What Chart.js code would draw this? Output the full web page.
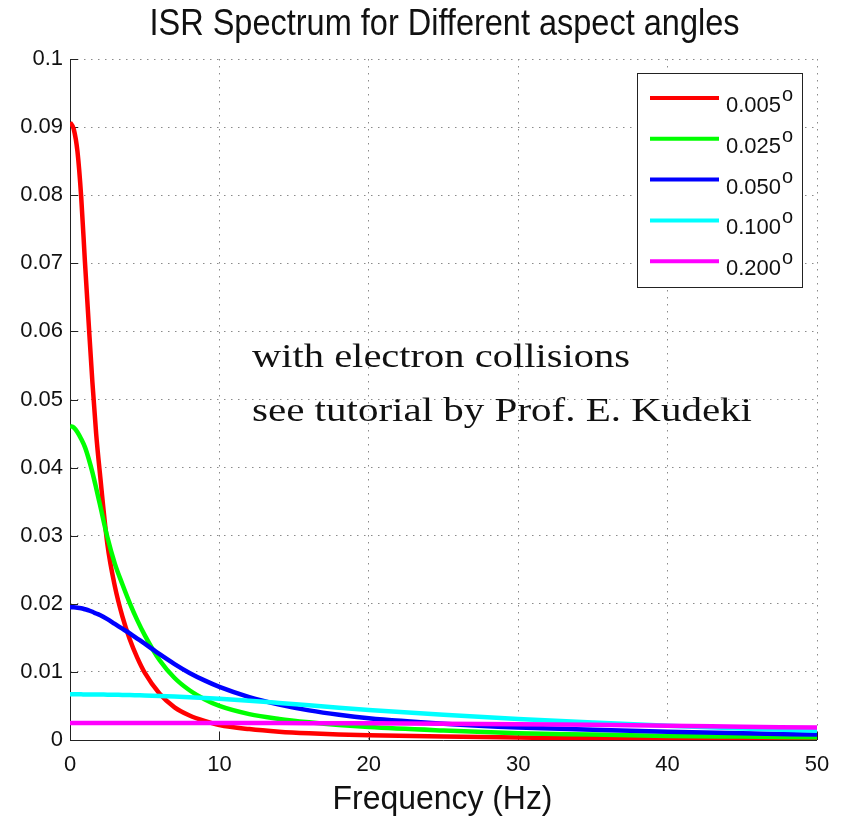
<!DOCTYPE html>
<html><head><meta charset="utf-8">
<script src="https://cdn.jsdelivr.net/npm/chart.js@4.4.1/dist/chart.umd.min.js"></script>
<style>html,body{margin:0;padding:0;background:#fff;} #wrap{width:843px;height:820px;position:relative;}</style>
</head><body><div id="wrap"><canvas id="c" width="843" height="820"></canvas></div>
<script>
const chartTitle = 'ISR Spectrum for Different aspect angles';
const xAxisTitle = 'Frequency (Hz)';
const noteLines = ['with electron collisions', 'see tutorial by Prof. E. Kudeki'];
const seriesLabels = ['0.005', '0.025', '0.050', '0.100', '0.200'];
const seriesColors = ['#ff0000', '#00ff00', '#0000ff', '#00ffff', '#ff00ff'];

const freq = [0,0.25,0.5,0.75,1,1.25,1.5,1.75,2,2.5,3,3.5,4,4.5,5,6,7,8,9,10,12,14,16,18,20,25,30,35,40,45,50];
const s005 = [0.0907,0.0897,0.0864,0.0797,0.0702,0.0612,0.0525,0.0450,0.0392,0.0288,0.0226,0.0182,0.0148,0.0121,0.0099,0.0068,0.0048,0.0036,0.0028,0.0022,0.0016,0.00122,0.00098,0.00082,0.0007,0.0005,0.00035,0.00025,0.0002,0.00015,0.0001];
const s025 = [0.0461,0.0459,0.0452,0.0442,0.0430,0.0413,0.0393,0.0370,0.0346,0.0298,0.0259,0.0229,0.0201,0.0176,0.0154,0.0117,0.0091,0.0073,0.0060,0.0050,0.0038,0.0031,0.0026,0.0022,0.0019,0.0014,0.0010,0.0008,0.0006,0.0005,0.0004];
const s050 = [0.01950,0.01948,0.01943,0.01934,0.01920,0.01905,0.01883,0.01857,0.01835,0.01775,0.01705,0.01635,0.01565,0.01490,0.01415,0.01260,0.01115,0.00985,0.00875,0.00780,0.00630,0.00520,0.00435,0.00370,0.00320,0.00240,0.00185,0.00150,0.00120,0.00098,0.00080];
const s100 = [0.00670,0.00670,0.00670,0.00670,0.00669,0.00669,0.00668,0.00668,0.00667,0.00666,0.00664,0.00662,0.00660,0.00657,0.00654,0.00647,0.00638,0.00628,0.00617,0.00605,0.00578,0.00545,0.00510,0.00475,0.00440,0.00370,0.00310,0.00258,0.00210,0.00170,0.00135];
const s200 = [0.00250,0.00250,0.00250,0.00250,0.00250,0.00250,0.00250,0.00250,0.00250,0.00250,0.00250,0.00250,0.00250,0.00250,0.00250,0.00250,0.00250,0.00250,0.00250,0.00250,0.00249,0.00248,0.00247,0.00246,0.00245,0.00240,0.00233,0.00223,0.00210,0.00196,0.00182];
const seriesValues = [s005, s025, s050, s100, s200];

const xTicks = [0, 10, 20, 30, 40, 50];
const xTickLabels = ['0', '10', '20', '30', '40', '50'];
const yTicks = [0, 0.01, 0.02, 0.03, 0.04, 0.05, 0.06, 0.07, 0.08, 0.09, 0.1];
const yTickLabels = ['0', '0.01', '0.02', '0.03', '0.04', '0.05', '0.06', '0.07', '0.08', '0.09', '0.1'];

const SANS = '"Liberation Sans", Arial, Helvetica, sans-serif';
const SERIF = '"Liberation Serif", "Times New Roman", serif';

function fitText(ctx, text, x, y, font, targetW, align) {
  ctx.save();
  ctx.font = font;
  const w = ctx.measureText(text).width;
  ctx.translate(x, y);
  ctx.scale(targetW / w, 1);
  ctx.textAlign = align;
  ctx.textBaseline = 'alphabetic';
  ctx.fillText(text, 0, 0);
  ctx.restore();
}

const axesPlugin = {
  id: 'axesPlugin',
  beforeDatasetsDraw(chart) {
    const ctx = chart.ctx, ca = chart.chartArea;
    const xs = chart.scales.x, ys = chart.scales.y;
    ctx.save();
    ctx.strokeStyle = '#222';
    ctx.lineWidth = 1;
    ctx.beginPath();
    ctx.moveTo(ca.left + 0.5, ca.top);
    ctx.lineTo(ca.left + 0.5, ca.bottom + 0.5);
    ctx.lineTo(ca.right, ca.bottom + 0.5);
    yTicks.forEach(v => {
      const y = Math.round(ys.getPixelForValue(v)) + 0.5;
      ctx.moveTo(ca.left, y); ctx.lineTo(ca.left + 8, y);
    });
    xTicks.forEach(v => {
      const x = Math.round(xs.getPixelForValue(v)) + 0.5;
      ctx.moveTo(x, ca.bottom); ctx.lineTo(x, ca.bottom - 8);
    });
    ctx.stroke();
    ctx.restore();
  },
  afterDraw(chart) {
    const ctx = chart.ctx, ca = chart.chartArea;
    ctx.save();
    ctx.fillStyle = '#111';
    fitText(ctx, chartTitle, (ca.left + ca.right) / 2 + 1, 35, '36px ' + SANS, 590, 'center');
    fitText(ctx, xAxisTitle, (ca.left + ca.right) / 2 - 1, 809, '33px ' + SANS, 220, 'center');
    fitText(ctx, noteLines[0], 252, 367, '33px ' + SERIF, 378, 'left');
    fitText(ctx, noteLines[1], 252, 421, '33px ' + SERIF, 500, 'left');
    const bx = 637.5, by = 73.5, bw = 165, bh = 214;
    ctx.fillStyle = '#fff';
    ctx.fillRect(bx, by, bw, bh);
    ctx.strokeStyle = '#222';
    ctx.lineWidth = 1;
    ctx.strokeRect(bx, by, bw, bh);
    chart.data.datasets.forEach((ds, i) => {
      const ly = 98 + i * 40.8;
      ctx.strokeStyle = ds.borderColor;
      ctx.lineWidth = 4;
      ctx.beginPath();
      ctx.moveTo(650, ly); ctx.lineTo(719, ly);
      ctx.stroke();
      ctx.fillStyle = '#111';
      ctx.font = '22px ' + SANS;
      ctx.textAlign = 'left';
      ctx.textBaseline = 'alphabetic';
      ctx.fillText(ds.label, 726, ly + 14);
      const w = ctx.measureText(ds.label).width;
      ctx.font = '20px ' + SANS;
      ctx.fillText('o', 726 + w + 1, ly + 3);
    });
    ctx.restore();
  }
};

const datasets = seriesValues.map((vals, i) => ({
  label: seriesLabels[i],
  data: freq.map((f, j) => ({ x: f, y: vals[j] })),
  borderColor: seriesColors[i],
  backgroundColor: seriesColors[i],
  borderWidth: 4.5,
  pointRadius: 0,
  fill: false,
  cubicInterpolationMode: 'monotone',
  order: seriesValues.length - i
}));

new Chart(document.getElementById('c'), {
  type: 'line',
  data: { datasets },
  options: {
    responsive: false,
    animation: false,
    devicePixelRatio: 1,
    layout: { padding: { top: 59, right: 26, left: 0, bottom: 0 } },
    plugins: { legend: { display: false }, title: { display: false }, tooltip: { enabled: false } },
    scales: {
      x: {
        type: 'linear', min: 0, max: 50,
        afterBuildTicks: s => { s.ticks = xTicks.map(v => ({ value: v })); },
        afterFit: s => { s.height = 80; },
        ticks: { padding: 12, color: '#111', font: { family: SANS, size: 22 }, maxRotation: 0, autoSkip: false,
                 callback: (v, i) => xTickLabels[i] },
        grid: { color: '#8a8a8a', lineWidth: 1, drawTicks: false },
        border: { display: false, dash: [1.5, 5.5] }
      },
      y: {
        type: 'linear', min: 0, max: 0.1,
        afterBuildTicks: s => { s.ticks = yTicks.map(v => ({ value: v })); },
        afterFit: s => { s.width = 70; },
        ticks: { padding: 7, color: '#111', font: { family: SANS, size: 22 }, autoSkip: false,
                 callback: (v, i) => yTickLabels[i] },
        grid: { color: '#8a8a8a', lineWidth: 1, drawTicks: false },
        border: { display: false, dash: [1.5, 5.5] }
      }
    }
  },
  plugins: [axesPlugin]
});
</script>
</body></html>
